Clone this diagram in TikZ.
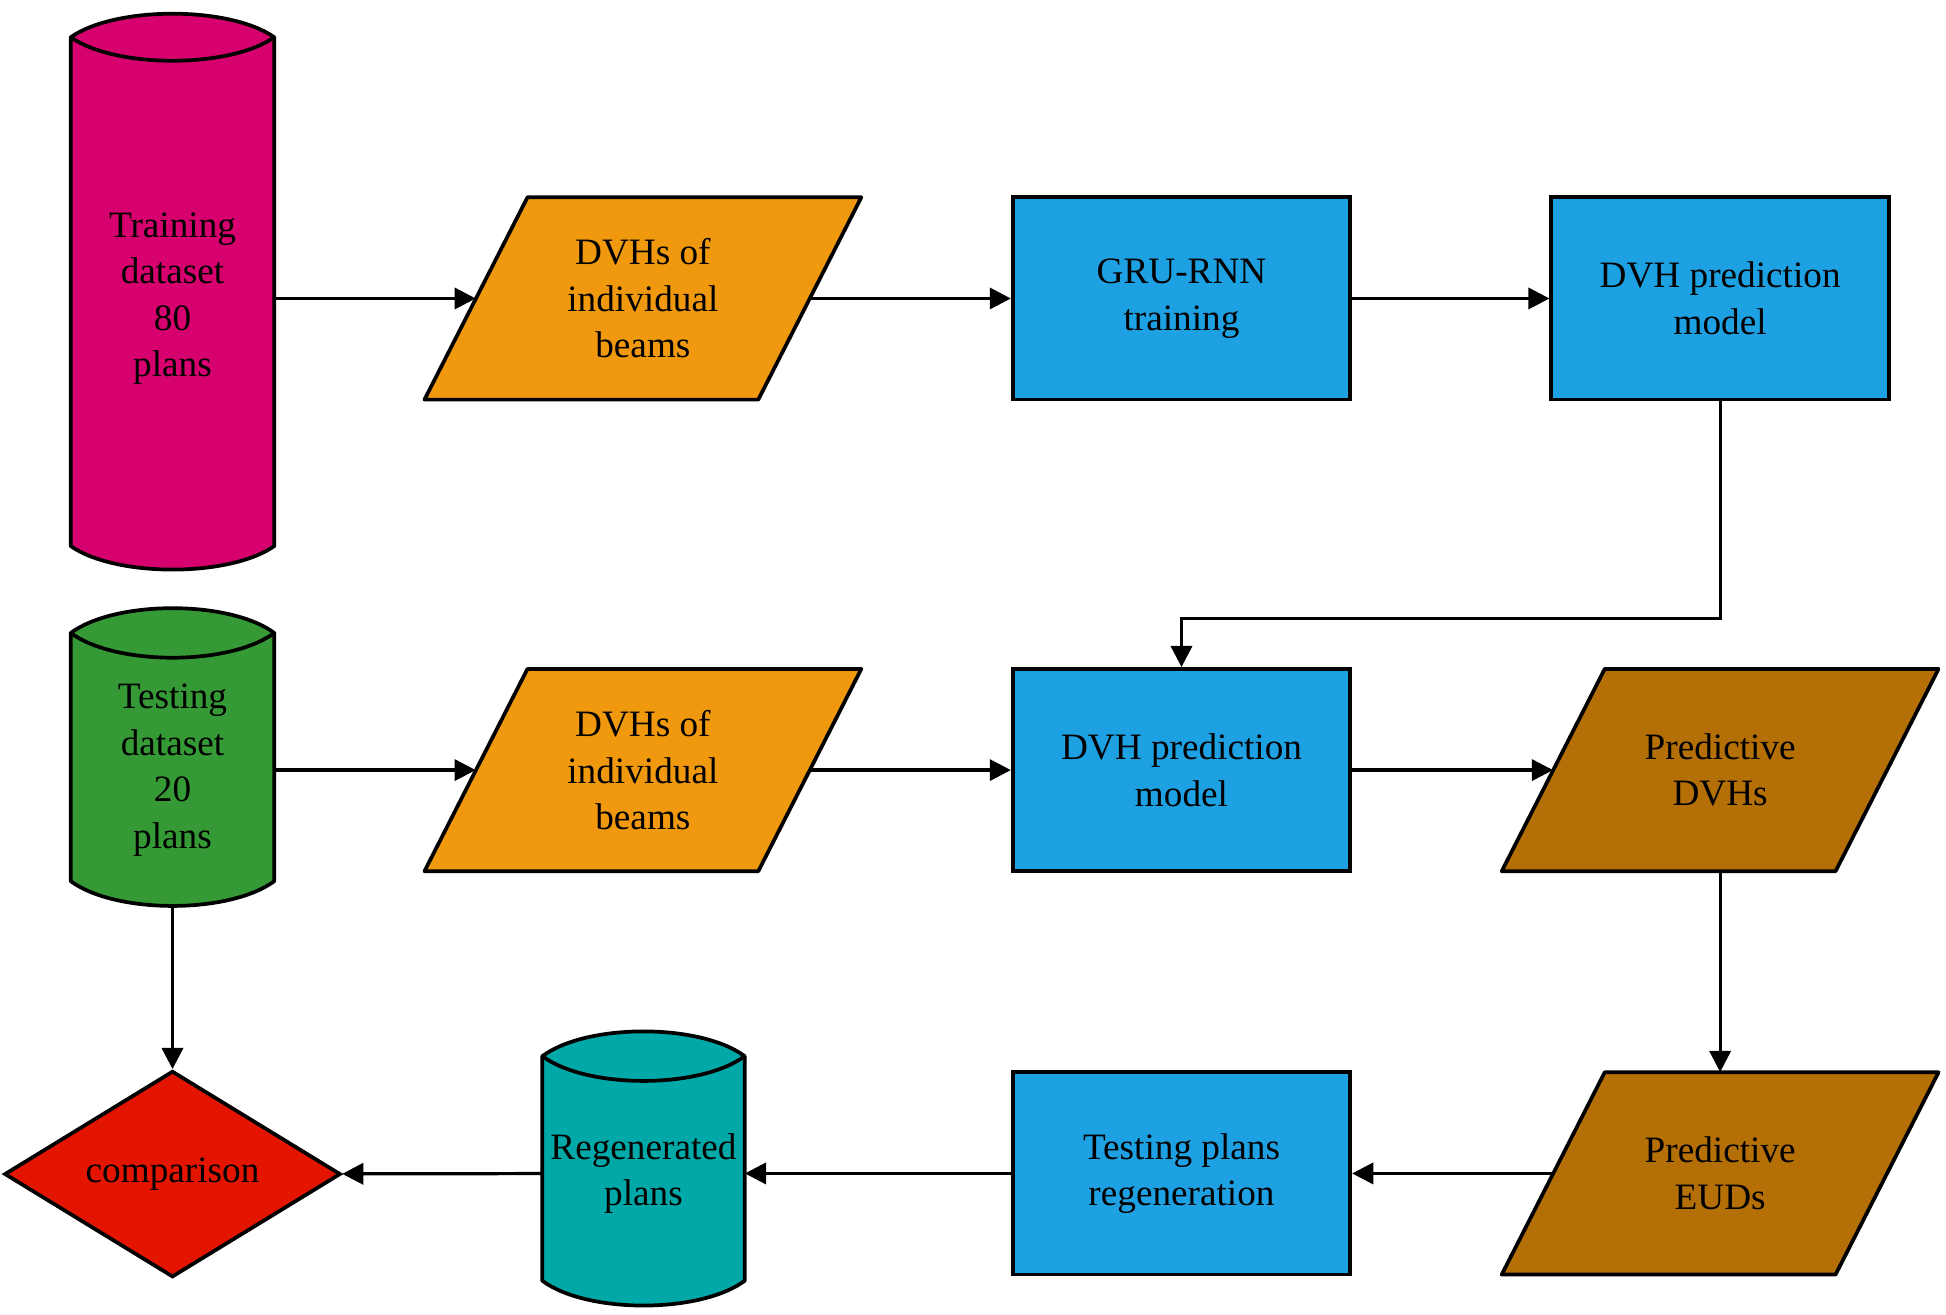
\documentclass[tikz,border=0pt]{standalone}
\usepackage{fontspec}
\setmainfont{Liberation Serif}
\usetikzlibrary{shapes.geometric,arrows.meta}
\definecolor{cmag}{HTML}{D6006E}
\definecolor{cgreen}{HTML}{359A35}
\definecolor{cteal}{HTML}{00A9A8}
\definecolor{cred}{HTML}{E31500}
\definecolor{corange}{HTML}{F0990F}
\definecolor{cblue}{HTML}{1DA1E2}
\definecolor{cbrown}{HTML}{B46F07}
\begin{document}
\begin{tikzpicture}[x=1pt,y=-1pt,
  lbl/.style={align=center,font=\fontsize{30}{37.5}\selectfont,inner sep=0pt},
  proc/.style={lbl,draw,line width=3pt,fill=cblue,minimum width=272pt,minimum height=163pt},
  parabox/.style={lbl,minimum width=269pt,minimum height=163pt},
  dec/.style={lbl,draw,line width=3pt,diamond,fill=cred,minimum width=271pt,minimum height=162pt},
  cylbox/.style={lbl},
  outline/.style={draw,line width=3pt,line join=round},
  arr/.style={line width=2.6pt,-{Triangle[length=17pt,width=17pt]}}]
\useasboundingbox (0,0) rectangle (1568,1059);
% cylinder: L R T B ry colour
\newcommand{\mycyl}[6]{%
  \filldraw[outline,fill=#6] (#1,#3) -- (#1,#4)
     .. controls ({#1+0.22*(#2-#1)},{#4+1.33*#5}) and ({#2-0.22*(#2-#1)},{#4+1.33*#5}) .. (#2,#4) -- (#2,#3);
  \filldraw[outline,fill=#6] (#1,#3)
     .. controls ({#1+0.22*(#2-#1)},{#3-1.33*#5}) and ({#2-0.22*(#2-#1)},{#3-1.33*#5}) .. (#2,#3)
     .. controls ({#2-0.22*(#2-#1)},{#3+1.33*#5}) and ({#1+0.22*(#2-#1)},{#3+1.33*#5}) .. cycle;
}
% parallelogram: cx cy colour
\newcommand{\mypara}[3]{%
  \filldraw[outline,fill=#3] ({#1-176},{#2+81.5}) -- ({#1-93},{#2-81.5}) -- ({#1+176},{#2-81.5}) -- ({#1+93},{#2+81.5}) -- cycle;
}
\mycyl{57}{221}{30}{440}{19}{cmag}
\mycyl{57}{221}{510}{710}{20}{cgreen}
\mycyl{437}{600}{851}{1032}{20}{cteal}
\mypara{518}{240.5}{corange}
\mypara{518}{620.5}{corange}
\mypara{1386}{620.5}{cbrown}
\mypara{1386}{945.5}{cbrown}

\node[cylbox,minimum width=164pt,minimum height=400pt] (train) at (139,240.5) {Training\\dataset\\80\\plans};
\node[cylbox,minimum width=164pt,minimum height=217pt] (test) at (139,620.5) {Testing\\dataset\\20\\plans};
\node[cylbox,minimum width=163pt,minimum height=212pt] (regen) at (518.5,945.5) {Regenerated\\plans};

\node[parabox] (dvh1) at (518,240.5) {DVHs of\\individual\\beams};
\node[proc] (gru) at (952,240.5) {GRU-RNN\\training};
\node[proc] (mod1) at (1386,240.5) {DVH prediction\\model};

\node[parabox] (dvh2) at (518,620.5) {DVHs of\\individual\\beams};
\node[proc] (mod2) at (952,620.5) {DVH prediction\\model};
\node[parabox] (pdvh) at (1386,620.5) {Predictive\\DVHs};

\node[dec] (cmp) at (139,946) {comparison};
\node[proc] (tpr) at (952,945.5) {Testing plans\\regeneration};
\node[parabox] (peud) at (1386,945.5) {Predictive\\EUDs};

\draw[arr] (train) -- (dvh1);
\draw[arr] (dvh1) -- (gru);
\draw[arr] (gru) -- (mod1);
\draw[arr] (mod1.south) -- ++(0,175) -| (mod2.north);
\draw[arr] (test) -- (dvh2);
\draw[arr] (dvh2) -- (mod2);
\draw[arr] (mod2) -- (pdvh);
\draw[arr] (pdvh) -- (peud);
\draw[arr] (peud) -- (tpr);
\draw[arr] (tpr) -- (regen);
\draw[arr] (regen) -- (cmp);
\draw[arr] (test) -- (cmp);
\end{tikzpicture}
\end{document}
